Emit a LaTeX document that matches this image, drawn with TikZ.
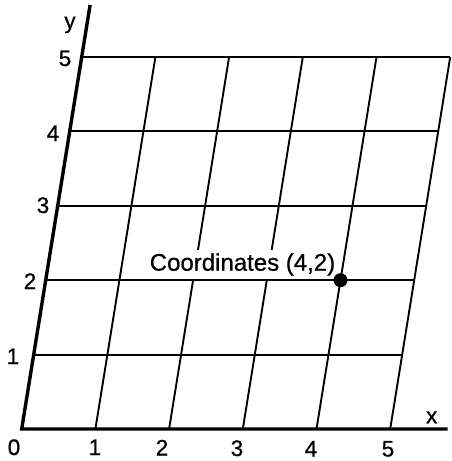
\documentclass[tikz,border=0pt]{standalone}
\usepackage{fontspec}
\setmainfont{Liberation Sans}
\newfontfamily\lblfont{Liberation Sans}[FakeBold=0.7]
\tikzset{
  gridline/.style={line width=1.9pt},
  axisline/.style={line width=3.4pt},
  lbl/.style={font=\lblfont\fontsize{22.5}{26}\selectfont, anchor=base, inner sep=0pt},
  coordlbl/.style={font=\lblfont\fontsize{24}{28}\selectfont, anchor=base, fill=white, inner sep=3pt},
  dotnode/.style={circle, fill=black, inner sep=0pt, minimum size=14pt}
}
\begin{document}
\begin{tikzpicture}[x=1pt,y=-1pt]
\useasboundingbox (0,0) rectangle (452,461);
\begin{scope}[shift={(21.7,429)}, x={(73.7pt,0pt)}, y={(12pt,74.4pt)}]
  \coordinate (O) at (0,0);
  \coordinate (xend) at (5.78,0);
  \coordinate (yend) at (0,5.70);
  \foreach \j in {1,...,5} \draw[gridline] (0,\j) -- (5,\j);
  \foreach \i in {1,...,5} \draw[gridline] (\i,0) -- (\i,5);
  \draw[axisline] (xend) -- (O) -- (yend);
  \coordinate (P) at (4,2);
\end{scope}
\node[coordlbl] (clabel) at (242.5,270.7) {Coordinates (4,2)};
\node[dotnode] (dot) at (P) {};
% x-axis labels
\node[lbl] (x0) at (14,455) {0};
\node[lbl] (x1) at (95,455) {1};
\node[lbl] (x2) at (162,455.5) {2};
\node[lbl] (x3) at (237,456) {3};
\node[lbl] (x4) at (311,456.5) {4};
\node[lbl] (x5) at (388,456.5) {5};
\node[lbl] (xl) at (431.7,423.3) {x};
% y-axis labels
\node[lbl] (y1) at (13,364) {1};
\node[lbl] (y2) at (30,289) {2};
\node[lbl] (y3) at (43,213) {3};
\node[lbl] (y4) at (53,141) {4};
\node[lbl] (y5) at (65,66) {5};
\node[lbl] (yl) at (70,28.5) {y};
\end{tikzpicture}
\end{document}
